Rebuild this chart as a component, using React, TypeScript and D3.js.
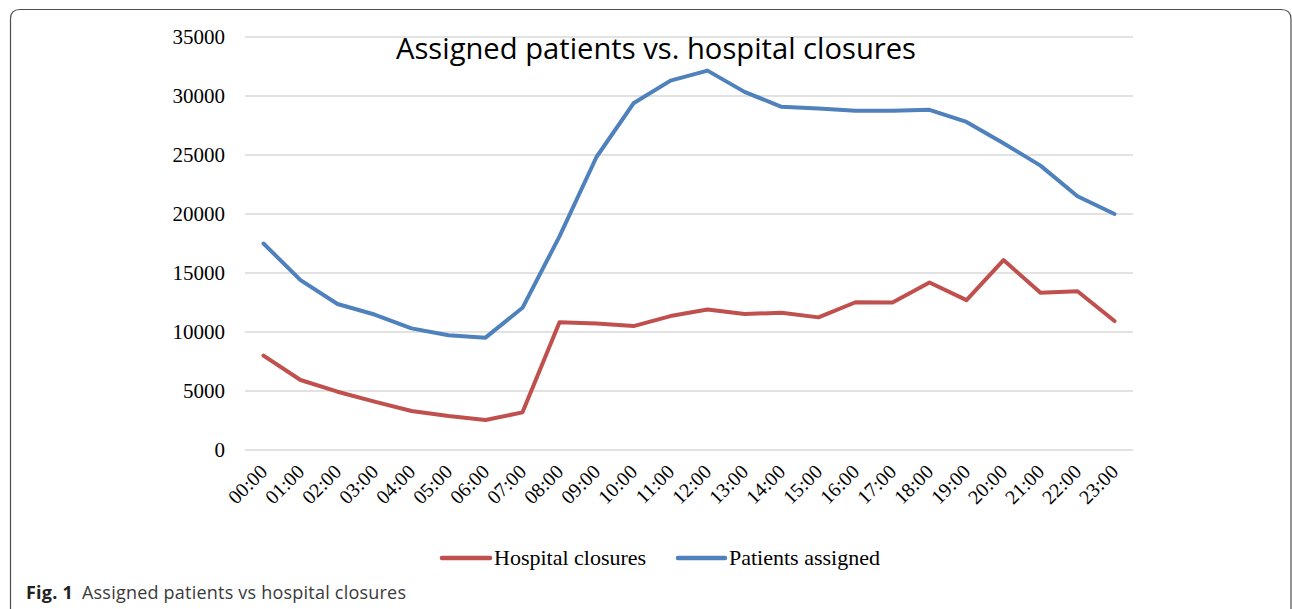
import React from 'react';
import * as d3 from 'd3';

const hours = [
  '00:00', '01:00', '02:00', '03:00', '04:00', '05:00', '06:00', '07:00',
  '08:00', '09:00', '10:00', '11:00', '12:00', '13:00', '14:00', '15:00',
  '16:00', '17:00', '18:00', '19:00', '20:00', '21:00', '22:00', '23:00',
];

const hospitalClosures = [
  8000, 5930, 4940, 4100, 3300, 2880, 2540, 3190,
  10820, 10730, 10500, 11350, 11900, 11520, 11640, 11240,
  12520, 12500, 14200, 12700, 16100, 13330, 13450, 10930,
];

const patientsAssigned = [
  17500, 14400, 12370, 11480, 10310, 9730, 9520, 12050,
  18100, 24830, 29380, 31300, 32150, 30350, 29080, 28940,
  28750, 28750, 28830, 27800, 26000, 24100, 21500, 20000,
];

const yTicks = [0, 5000, 10000, 15000, 20000, 25000, 30000, 35000];

const series = [
  { name: 'Hospital closures', values: hospitalClosures, color: '#c0504d' },
  { name: 'Patients assigned', values: patientsAssigned, color: '#4f81bd' },
];

const W = 1292;
const H = 609;

export default function App() {
  const x = d3.scaleBand<string>().domain(hours).range([245, 1133]);
  const y = d3.scaleLinear().domain([0, 35000]).range([450, 37]);
  const cx = (h: string) => (x(h) ?? 0) + x.bandwidth() / 2;

  const line = d3.line<number>()
    .x((_, i) => cx(hours[i]))
    .y(d => y(d));

  const serif = "'Liberation Serif', 'Times New Roman', serif";
  const sans = "'Open Sans', 'Noto Sans', sans-serif";

  return (
    <div style={{ position: 'fixed', left: 0, top: 0 }}>
      <svg width={W} height={H} style={{ display: 'block', background: '#fff' }}>
        {/* frame */}
        <path
          d="M10.5,660 L10.5,19 Q10.5,9.5 20,9.5 L1281,9.5 Q1291,9.5 1291,19 L1291,660"
          fill="none" stroke="#4d4d4d" strokeWidth={1.2}
        />

        {/* grid + y labels */}
        {yTicks.map(t => (
          <g key={t}>
            <line x1={245} x2={1133} y1={y(t)} y2={y(t)} stroke="#d9d9d9" strokeWidth={1.5} />
            <text x={225} y={y(t)} dy="0.35em" textAnchor="end"
              fontFamily={serif} fontSize={21} fill="#000">{t}</text>
          </g>
        ))}

        {/* x labels */}
        {hours.map(h => (
          <text key={h} transform={`translate(${cx(h) + 5},${473}) rotate(-45)`}
            textAnchor="end" fontFamily={serif} fontSize={20} fill="#000">{h}</text>
        ))}

        {/* lines */}
        {series.map(s => (
          <path key={s.name} d={line(s.values) ?? ''} fill="none" stroke={s.color}
            strokeWidth={4} strokeLinejoin="round" strokeLinecap="round" />
        ))}

        {/* title */}
        <text x={656} y={59} textAnchor="middle" fontFamily={sans}
          fontSize={29} fill="#000" textLength={520} lengthAdjust="spacingAndGlyphs">
          Assigned patients vs. hospital closures
        </text>

        {/* legend */}
        <line x1={442} x2={490} y1={558} y2={558} stroke="#c0504d" strokeWidth={4.5} strokeLinecap="round" />
        <text x={494} y={565} fontFamily={serif} fontSize={22} fill="#000">Hospital closures</text>
        <line x1={678} x2={725} y1={558} y2={558} stroke="#4f81bd" strokeWidth={4.5} strokeLinecap="round" />
        <text x={729} y={565} fontFamily={serif} fontSize={22} fill="#000">Patients assigned</text>

        {/* caption */}
        <text x={26} y={599} fontFamily={sans} fontSize={18} fill="#3a3a3a" textLength={380} lengthAdjust="spacing">
          <tspan fontWeight={700} fill="#222">Fig. 1</tspan>
          <tspan dx={9}>Assigned patients vs hospital closures</tspan>
        </text>
      </svg>
    </div>
  );
}
